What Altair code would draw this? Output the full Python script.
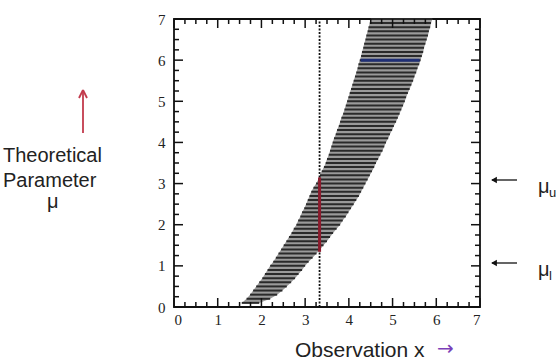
import altair as alt
import pandas as pd

# ---- data ----
mu_grid = [round(0.1 * i, 1) for i in range(1, 71)]
belt_left = [1.55, 1.66, 1.74, 1.81, 1.88, 1.95, 2.02, 2.08, 2.14, 2.20,
             2.27, 2.33, 2.39, 2.45, 2.51, 2.57, 2.63, 2.69, 2.74, 2.80,
             2.84, 2.89, 2.93, 2.98, 3.02, 3.06, 3.10, 3.14, 3.19, 3.25,
             3.30, 3.34, 3.38, 3.43, 3.47, 3.50, 3.54, 3.57, 3.60, 3.63,
             3.66, 3.70, 3.73, 3.77, 3.80, 3.83, 3.87, 3.90, 3.93, 3.96,
             3.99, 4.02, 4.05, 4.08, 4.11, 4.14, 4.17, 4.20, 4.22, 4.25,
             4.28, 4.30, 4.33, 4.35, 4.38, 4.40, 4.43, 4.45, 4.48, 4.50]
belt_right = [1.95, 2.20, 2.36, 2.48, 2.58, 2.68, 2.77, 2.85, 2.93, 3.00,
              3.08, 3.17, 3.26, 3.34, 3.42, 3.50, 3.57, 3.64, 3.72, 3.80,
              3.86, 3.93, 3.99, 4.05, 4.11, 4.17, 4.23, 4.28, 4.33, 4.38,
              4.43, 4.48, 4.53, 4.58, 4.62, 4.67, 4.72, 4.77, 4.81, 4.85,
              4.90, 4.94, 4.99, 5.03, 5.08, 5.12, 5.16, 5.20, 5.24, 5.28,
              5.31, 5.35, 5.39, 5.43, 5.47, 5.50, 5.54, 5.57, 5.61, 5.64,
              5.67, 5.70, 5.72, 5.75, 5.78, 5.81, 5.83, 5.86, 5.88, 5.91]
x_obs = 3.33
mu_lower, mu_upper = 1.34, 3.15
blue_mu, blue_x0, blue_x1 = 6.0, 4.27, 5.62
tick_labels = [0, 1, 2, 3, 4, 5, 6, 7]
major_ticks = [0, 1, 2, 3, 4, 5, 6, 7]
minor_ticks = [i / 4 for i in range(29) if i % 4 != 0]

W, H = 306, 288

belt = pd.DataFrame({"mu": mu_grid, "left": belt_left, "right": belt_right})

xscale = alt.Scale(domain=[0, 7], nice=False, zero=False)
yscale = alt.Scale(domain=[0, 7], nice=False, zero=False)
axis_common = dict(values=tick_labels, ticks=False, domain=False, grid=False,
                   labelFont="Liberation Serif", labelFontSize=15, labelColor="#222")
xaxis = alt.Axis(labelPadding=5, **axis_common)
yaxis = alt.Axis(labelPadding=9, **axis_common)


def X(field):
    return alt.X(field, scale=xscale, axis=xaxis, title=None)


def Y(field):
    return alt.Y(field, scale=yscale, axis=yaxis, title=None)


area = alt.Chart(belt).mark_area(orient="horizontal", color="#9a9a9a").encode(
    y=Y("mu:Q"), x=X("left:Q"), x2="right:Q")
stripes = alt.Chart(belt).mark_rule(color="#2a2a2a", strokeWidth=2).encode(
    y=Y("mu:Q"), x=X("left:Q"), x2="right:Q")

blue = alt.Chart(pd.DataFrame({"mu": [blue_mu], "a": [blue_x0], "b": [blue_x1]})).mark_rule(
    color="#1f2f75", strokeWidth=3).encode(y=Y("mu:Q"), x=X("a:Q"), x2="b:Q")

dotted = alt.Chart(pd.DataFrame({"x": [x_obs], "y0": [0], "y1": [7]})).mark_rule(
    color="#111", strokeWidth=1.8, strokeDash=[2, 1.5]).encode(
    x=X("x:Q"), y=Y("y0:Q"), y2="y1:Q")

red = alt.Chart(pd.DataFrame({"x": [x_obs], "y0": [mu_lower], "y1": [mu_upper]})).mark_rule(
    color="#8c1c2e", strokeWidth=3).encode(x=X("x:Q"), y=Y("y0:Q"), y2="y1:Q")


def xticks(vals, length, top):
    df = pd.DataFrame({"t": vals})
    if top:
        yy, yy2 = 0, length
    else:
        yy, yy2 = H, H - length
    return alt.Chart(df).mark_rule(color="#111", strokeWidth=1.5).encode(
        x=X("t:Q"), y=alt.value(yy), y2=alt.value(yy2))


def yticks(vals, length, left):
    df = pd.DataFrame({"t": vals})
    if left:
        xx, xx2 = 0, length
    else:
        xx, xx2 = W, W - length
    return alt.Chart(df).mark_rule(color="#111", strokeWidth=1.5).encode(
        y=Y("t:Q"), x=alt.value(xx), x2=alt.value(xx2))


ticks = [xticks(major_ticks, 9, False), xticks(minor_ticks, 5, False),
         xticks(major_ticks, 9, True), xticks(minor_ticks, 5, True),
         yticks(major_ticks, 9, True), yticks(minor_ticks, 5, True),
         yticks(major_ticks, 9, False), yticks(minor_ticks, 5, False)]

one = pd.DataFrame({"a": [0]})


def label(text, x, y, size=20, color="#222", font="Liberation Sans"):
    return alt.Chart(pd.DataFrame({"t": [text]})).mark_text(
        align="left", baseline="alphabetic", fontSize=size, font=font, color=color).encode(
        x=alt.value(x), y=alt.value(y), text="t:N")


def seg(x, y, x2, y2, color, width=1.5):
    return alt.Chart(one).mark_rule(color=color, strokeWidth=width).encode(
        x=alt.value(x), y=alt.value(y), x2=alt.value(x2), y2=alt.value(y2))


def head(x, y, shape):
    return alt.Chart(one).mark_point(shape=shape, filled=True, size=45, color="#111", opacity=1).encode(
        x=alt.value(x), y=alt.value(y))


red_arrow_c = "#c23a4c"
annotations = [
    seg(-91, 114, -91, 72, red_arrow_c, 1.8),
    seg(-91, 71, -95, 79, red_arrow_c, 1.8),
    seg(-91, 71, -87, 79, red_arrow_c, 1.8),
    label("Theoretical", -171, 143),
    label("Parameter", -171, 168),
    label("μ", -127, 189),
    seg(318, 161, 343, 161, "#111", 1.3),
    head(320, 161, "triangle-left"),
    seg(318, 244, 343, 244, "#111", 1.3),
    head(320, 244, "triangle-left"),
    label("μ", 364, 174),
    label("u", 375, 178, size=13),
    label("μ", 364, 257),
    label("l", 375, 261, size=13),
    label("Observation x", 121, 338, size=21),
    label("→", 263, 336, size=20, color="#7b3fb8", font="DejaVu Sans"),
]

chart = alt.layer(area, stripes, blue, dotted, red, *ticks, *annotations).properties(
    width=W, height=H,
    padding={"left": 174, "top": 19, "right": 78, "bottom": 56},
    autosize=alt.AutoSizeParams(type="none"),
    background="white",
).configure_view(stroke="#111", strokeWidth=1.8)

chart.save("out.html", embed_options={"renderer": "svg", "actions": False})
